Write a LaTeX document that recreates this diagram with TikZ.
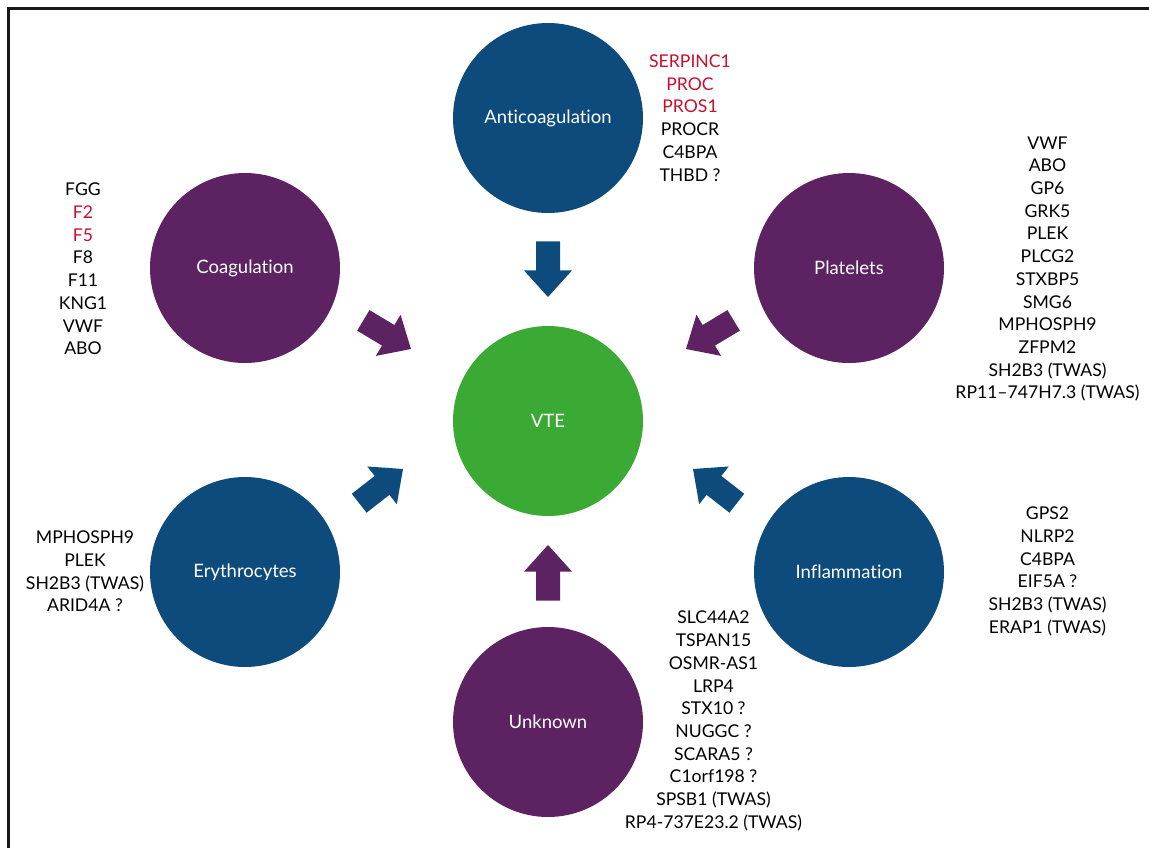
\documentclass[tikz,border=0pt]{standalone}
\usepackage{fontspec}
\setmainfont{Lato}[Ligatures=NoCommon]
\definecolor{cblue}{RGB}{14,75,125}
\definecolor{cpurple}{RGB}{92,34,98}
\definecolor{cgreen}{RGB}{59,170,53}
\definecolor{cred}{RGB}{200,16,46}
\begin{document}
\begin{tikzpicture}[x=1pt,y=1pt,
  bubble/.style={circle, minimum size=190pt, inner sep=0pt, text=white, font=\fontsize{18.5}{20}\selectfont},
  genes/.style={align=center, inner sep=0pt, font=\fontsize{17.6}{22.7}\selectfont},
  blockarrow/.pic={\fill[pic actions] (0,0) -- (-26.6,24) -- (-26.6,12) -- (-55.6,12) -- (-55.6,-12) -- (-26.6,-12) -- (-26.6,-24) -- cycle;}
]
\useasboundingbox (0,0) rectangle (1149,-847);
\draw[line width=3pt, color=black!90] (8.5,-850) -- (8.5,-8.5) -- (1152,-8.5);

% circles
\node[bubble, fill=cblue]   (anti)  at (548,-118) {Anticoagulation};
\node[bubble, fill=cgreen]  (vte)   at (548,-421) {VTE};
\node[bubble, fill=cpurple] (coag)  at (245,-268) {Coagulation};
\node[bubble, fill=cpurple] (plat)  at (849,-268) {Platelets};
\node[bubble, fill=cblue]   (ery)   at (245,-572) {Erythrocytes};
\node[bubble, fill=cblue]   (infl)  at (849,-572) {Inflammation};
\node[bubble, fill=cpurple] (unk)   at (548,-722) {Unknown};

% block arrows
\pic[rotate=-90, fill=cblue] (a1) at (548,-297) {blockarrow};
\pic[rotate=90, fill=cpurple] (a2) at (548,-545) {blockarrow};
\pic[rotate=-31, fill=cpurple] (a3) at (411,-349) {blockarrow};
\pic[rotate=211, fill=cpurple] (a4) at (686,-349) {blockarrow};
\pic[rotate=38, fill=cblue] (a5) at (403,-469) {blockarrow};
\pic[rotate=142, fill=cblue] (a6) at (693,-469) {blockarrow};

% gene lists
\node[genes] (tanti) at (690,-118) {\textcolor{cred}{SERPINC1}\\\textcolor{cred}{PROC}\\\textcolor{cred}{PROS1}\\PROCR\\C4BPA\\THBD ?};
\node[genes] (tcoag) at (83,-269) {FGG\\\textcolor{cred}{F2}\\\textcolor{cred}{F5}\\F8\\F11\\KNG1\\VWF\\ABO};
\node[genes] (tplat) at (1047.5,-269) {VWF\\ABO\\GP6\\GRK5\\PLEK\\PLCG2\\STXBP5\\SMG6\\MPHOSPH9\\ZFPM2\\SH2B3 (TWAS)\\RP11–747H7.3 (TWAS)};
\node[genes] (tery) at (85,-571.5) {MPHOSPH9\\PLEK\\SH2B3 (TWAS)\\ARID4A ?};
\node[genes] (tinfl) at (1047.5,-571.5) {GPS2\\NLRP2\\C4BPA\\EIF5A ?\\SH2B3 (TWAS)\\ERAP1 (TWAS)};
\node[genes] (tunk) at (713.5,-721) {SLC44A2\\TSPAN15\\OSMR-AS1\\LRP4\\STX10 ?\\NUGGC ?\\SCARA5 ?\\C1orf198 ?\\SPSB1 (TWAS)\\RP4-737E23.2 (TWAS)};
\end{tikzpicture}
\end{document}
